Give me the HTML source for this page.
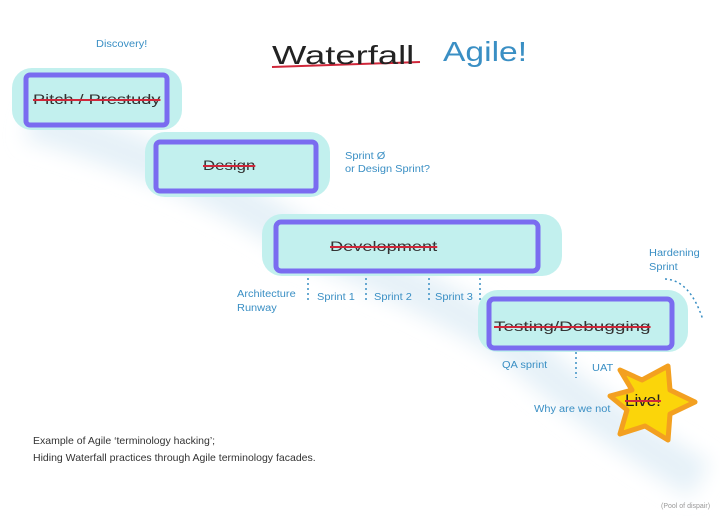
<!DOCTYPE html>
<html><head><meta charset="utf-8"><style>
body{margin:0;width:720px;height:518px;background:#fff;position:relative;overflow:hidden;font-family:"Liberation Sans",sans-serif}
.t{position:absolute;white-space:nowrap;transform-origin:left top}
.b{color:#3a8fc4;font-size:10px;transform:scaleX(1.1)}
.s{text-decoration:line-through;text-decoration-color:#d0273a;text-decoration-thickness:2px;color:#333;font-size:14px}
</style></head><body>
<svg width="720" height="518" style="position:absolute;left:0;top:0">
<defs><filter id="bl"><feGaussianBlur stdDeviation="10"/></filter></defs>
<path d="M30 120 Q200 170 300 240 Q450 300 520 350 Q600 420 700 480" stroke="#e6f1f8" stroke-width="40" fill="none" filter="url(#bl)"/>
<g fill="#c2f0ee">
<rect x="12" y="68" width="170" height="62" rx="20"/>
<rect x="145" y="132" width="185" height="65" rx="20"/>
<rect x="262" y="214" width="300" height="62" rx="20"/>
<rect x="478" y="290" width="210" height="62" rx="20"/>
</g>
<g fill="none" stroke="#7a6cf0" stroke-width="5" stroke-linejoin="round">
<rect x="26" y="75" width="141" height="50" rx="4"/>
<rect x="156" y="142" width="160" height="49" rx="4"/>
<rect x="276" y="222" width="262" height="49" rx="5"/>
<rect x="489" y="299" width="183" height="49" rx="5"/>
</g>
<g stroke="#3a8fc4" stroke-width="1.5" stroke-dasharray="2,3">
<line x1="308" y1="278" x2="308" y2="303"/><line x1="366" y1="278" x2="366" y2="303"/>
<line x1="429" y1="278" x2="429" y2="303"/><line x1="480" y1="278" x2="480" y2="303"/>
<line x1="576" y1="352" x2="576" y2="378"/>
<path d="M665 279 Q690 280 703 320" fill="none"/>
</g>
<polygon points="620,370 642,380 668,366 670,390 695,402 670,414 668,440 645,426 620,434 627,410 610,396 632,390" fill="#fbd50a" stroke="#f3a020" stroke-width="5" stroke-linejoin="round"/>
<line x1="272" y1="67" x2="420" y2="62" stroke="#d0273a" stroke-width="2"/>
</svg>
<div class="t" style="left:272px;top:40px;font-size:26px;color:#222;transform:scaleX(1.4)">Waterfall</div>
<div class="t" style="left:443px;top:36px;font-size:28px;color:#3a8fc4;transform:scaleX(1.2)">Agile!</div>
<div class="t b" style="left:96px;top:39px">Discovery!</div>
<div class="t s" style="left:33px;top:91px;transform:scaleX(1.3)">Pitch / Prestudy</div>
<div class="t s" style="left:203px;top:157px;transform:scaleX(1.2)">Design</div>
<div class="t b" style="left:345px;top:150px;line-height:13px">Sprint Ø<br>or Design Sprint?</div>
<div class="t s" style="left:330px;top:238px;transform:scaleX(1.3)">Development</div>
<div class="t b" style="left:649px;top:247px;line-height:14px">Hardening<br>Sprint</div>
<div class="t b" style="left:237px;top:288px;line-height:14px">Architecture<br>Runway</div>
<div class="t b" style="left:317px;top:292px">Sprint 1</div>
<div class="t b" style="left:374px;top:292px">Sprint 2</div>
<div class="t b" style="left:435px;top:292px">Sprint 3</div>
<div class="t s" style="left:494px;top:318px;transform:scaleX(1.35)">Testing/Debugging</div>
<div class="t b" style="left:502px;top:360px">QA sprint</div>
<div class="t b" style="left:592px;top:363px">UAT</div>
<div class="t b" style="left:534px;top:404px">Why are we not</div>
<div class="t s" style="left:625px;top:391px;font-size:17px;color:#222">Live!</div>
<div class="t" style="left:33px;top:433px;font-size:10.5px;color:#333;line-height:17px">Example of Agile ‘terminology hacking’;<br>Hiding Waterfall practices through Agile terminology facades.</div>
<div class="t" style="left:661px;top:503px;font-size:7px;color:#999">(Pool of dispair)</div>
</body></html>
